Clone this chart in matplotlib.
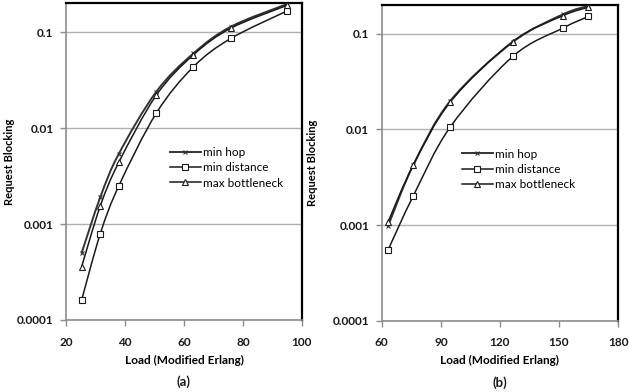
import numpy as np
import matplotlib
matplotlib.use('Agg')
import matplotlib.pyplot as plt
from matplotlib.path import Path
from matplotlib.patches import PathPatch
from matplotlib.ticker import FixedLocator, FixedFormatter, NullLocator

plt.rcParams['font.family'] = ['Lato', 'DejaVu Sans']

# panel (a)
load_a = [25.3, 31.6, 37.9, 50.6, 63.2, 75.9, 94.9]
hop_a = [0.0005, 0.0019, 0.0054, 0.0239, 0.060, 0.114, 0.196]
dist_a = [0.000162, 0.00079, 0.0025, 0.0143, 0.0435, 0.086, 0.166]
bott_a = [0.00036, 0.00154, 0.0044, 0.022, 0.058, 0.110, 0.190]

# panel (b)
load_b = [63.2, 75.9, 94.9, 126.5, 152.0, 165.0]
hop_b = [0.00098, 0.0042, 0.020, 0.082, 0.160, 0.196]
dist_b = [0.00055, 0.0020, 0.0107, 0.058, 0.115, 0.152]
bott_b = [0.00108, 0.0042, 0.0195, 0.083, 0.155, 0.190]

yticks = [0.0001, 0.001, 0.01, 0.1]
ylabels = ['0.0001', '0.001', '0.01', '0.1']


def smooth_line(ax, x, y, color, lw):
    # excel-like smoothed line: bezier segments in (x, log y) space
    xs = np.asarray(x, float)
    ly = np.log10(np.asarray(y, float))
    pts = np.column_stack([xs, ly])
    n = len(pts)
    verts = [pts[0]]
    codes = [Path.MOVETO]
    for i in range(n - 1):
        p0 = pts[max(i - 1, 0)]
        p1 = pts[i]
        p2 = pts[i + 1]
        p3 = pts[min(i + 2, n - 1)]
        c1 = p1 + (p2 - p0) / 6.0
        c2 = p2 - (p3 - p1) / 6.0
        verts += [c1, c2, p2]
        codes += [Path.CURVE4] * 3
    verts = np.array(verts)
    verts[:, 1] = 10 ** verts[:, 1]
    patch = PathPatch(Path(verts, codes), fill=False, edgecolor=color,
                      lw=lw, zorder=2, capstyle='round')
    ax.add_patch(patch)


def draw(ax, x, hop, dist, bott, xlim, xticks, leg_x, lab_x, tag):
    smooth_line(ax, x, hop, '#333333', 1.4)
    smooth_line(ax, x, dist, '#1a1a1a', 1.1)
    smooth_line(ax, x, bott, '#1a1a1a', 1.1)
    ax.plot(x, hop, ls='none', color='#333333', marker='x', ms=3.5, mew=0.8,
            zorder=3)
    ax.plot(x, dist, ls='none', marker='s', ms=4, mfc='white',
            mec='#1a1a1a', mew=0.8, zorder=3)
    ax.plot(x, bott, ls='none', marker='^', ms=4, mfc='white',
            mec='#1a1a1a', mew=0.8, zorder=3)
    # legend handles
    ax.plot([], [], color='#333333', lw=1.4, marker='x', ms=3.5, mew=0.8,
            label='min hop')
    ax.plot([], [], color='#1a1a1a', lw=1.1, marker='s', ms=4, mfc='white',
            mec='#1a1a1a', mew=0.8, label='min distance')
    ax.plot([], [], color='#1a1a1a', lw=1.1, marker='^', ms=4, mfc='white',
            mec='#1a1a1a', mew=0.8, label='max bottleneck')
    ax.set_yscale('log')
    ax.set_ylim(0.0001, 0.2)
    ax.set_xlim(*xlim)
    ax.yaxis.set_major_locator(FixedLocator(yticks))
    ax.yaxis.set_major_formatter(FixedFormatter(ylabels))
    ax.yaxis.set_minor_locator(NullLocator())
    ax.set_xticks(xticks)
    ax.set_xticklabels([str(t) for t in xticks])
    ax.grid(axis='y', color='#b0b0b0', lw=1.0)
    ax.set_axisbelow(True)
    for s in ['left', 'bottom']:
        ax.spines[s].set_color('#8c8c8c')
        ax.spines[s].set_linewidth(1.2)
    for s in ['top', 'right']:
        ax.spines[s].set_color('#000000')
        ax.spines[s].set_linewidth(1.6)
    ax.tick_params(axis='both', direction='out', length=4, width=1,
                   color='#8c8c8c', labelsize=8.5)
    ax.tick_params(axis='x', pad=8)
    ax.tick_params(axis='y', pad=5)
    for lab in ax.get_xticklabels() + ax.get_yticklabels():
        lab.set_fontweight('bold')
        lab.set_color('#1a1a1a')
    ax.set_xlabel('Load (Modified Erlang)', fontsize=8.5, fontweight='bold',
                  labelpad=5)
    ax.set_ylabel('Request Blocking', fontsize=8, fontweight='bold')
    ax.yaxis.set_label_coords(lab_x, 0.5)
    ax.legend(loc='center left', bbox_to_anchor=(leg_x, 0.48), frameon=False,
              fontsize=8.5, handlelength=2.6, handletextpad=0.2,
              labelspacing=0.35, borderaxespad=0, borderpad=0)
    ax.text(0.5, -0.175, tag, transform=ax.transAxes, ha='center',
            va='top', fontsize=9.5, fontweight='bold', color='#1a1a1a')


fig = plt.figure(figsize=(6.29, 3.92), dpi=100)
ax1 = fig.add_axes([0.105, 0.1837, 0.375, 0.808])
ax2 = fig.add_axes([0.607, 0.182, 0.3755, 0.805])

draw(ax1, load_a, hop_a, dist_a, bott_a, (20, 100), [20, 40, 60, 80, 100],
     0.44, -0.215, '(a)')
draw(ax2, load_b, hop_b, dist_b, bott_b, (60, 180), [60, 90, 120, 150, 180],
     0.34, -0.27, '(b)')

fig.savefig('out.png', dpi=100)
